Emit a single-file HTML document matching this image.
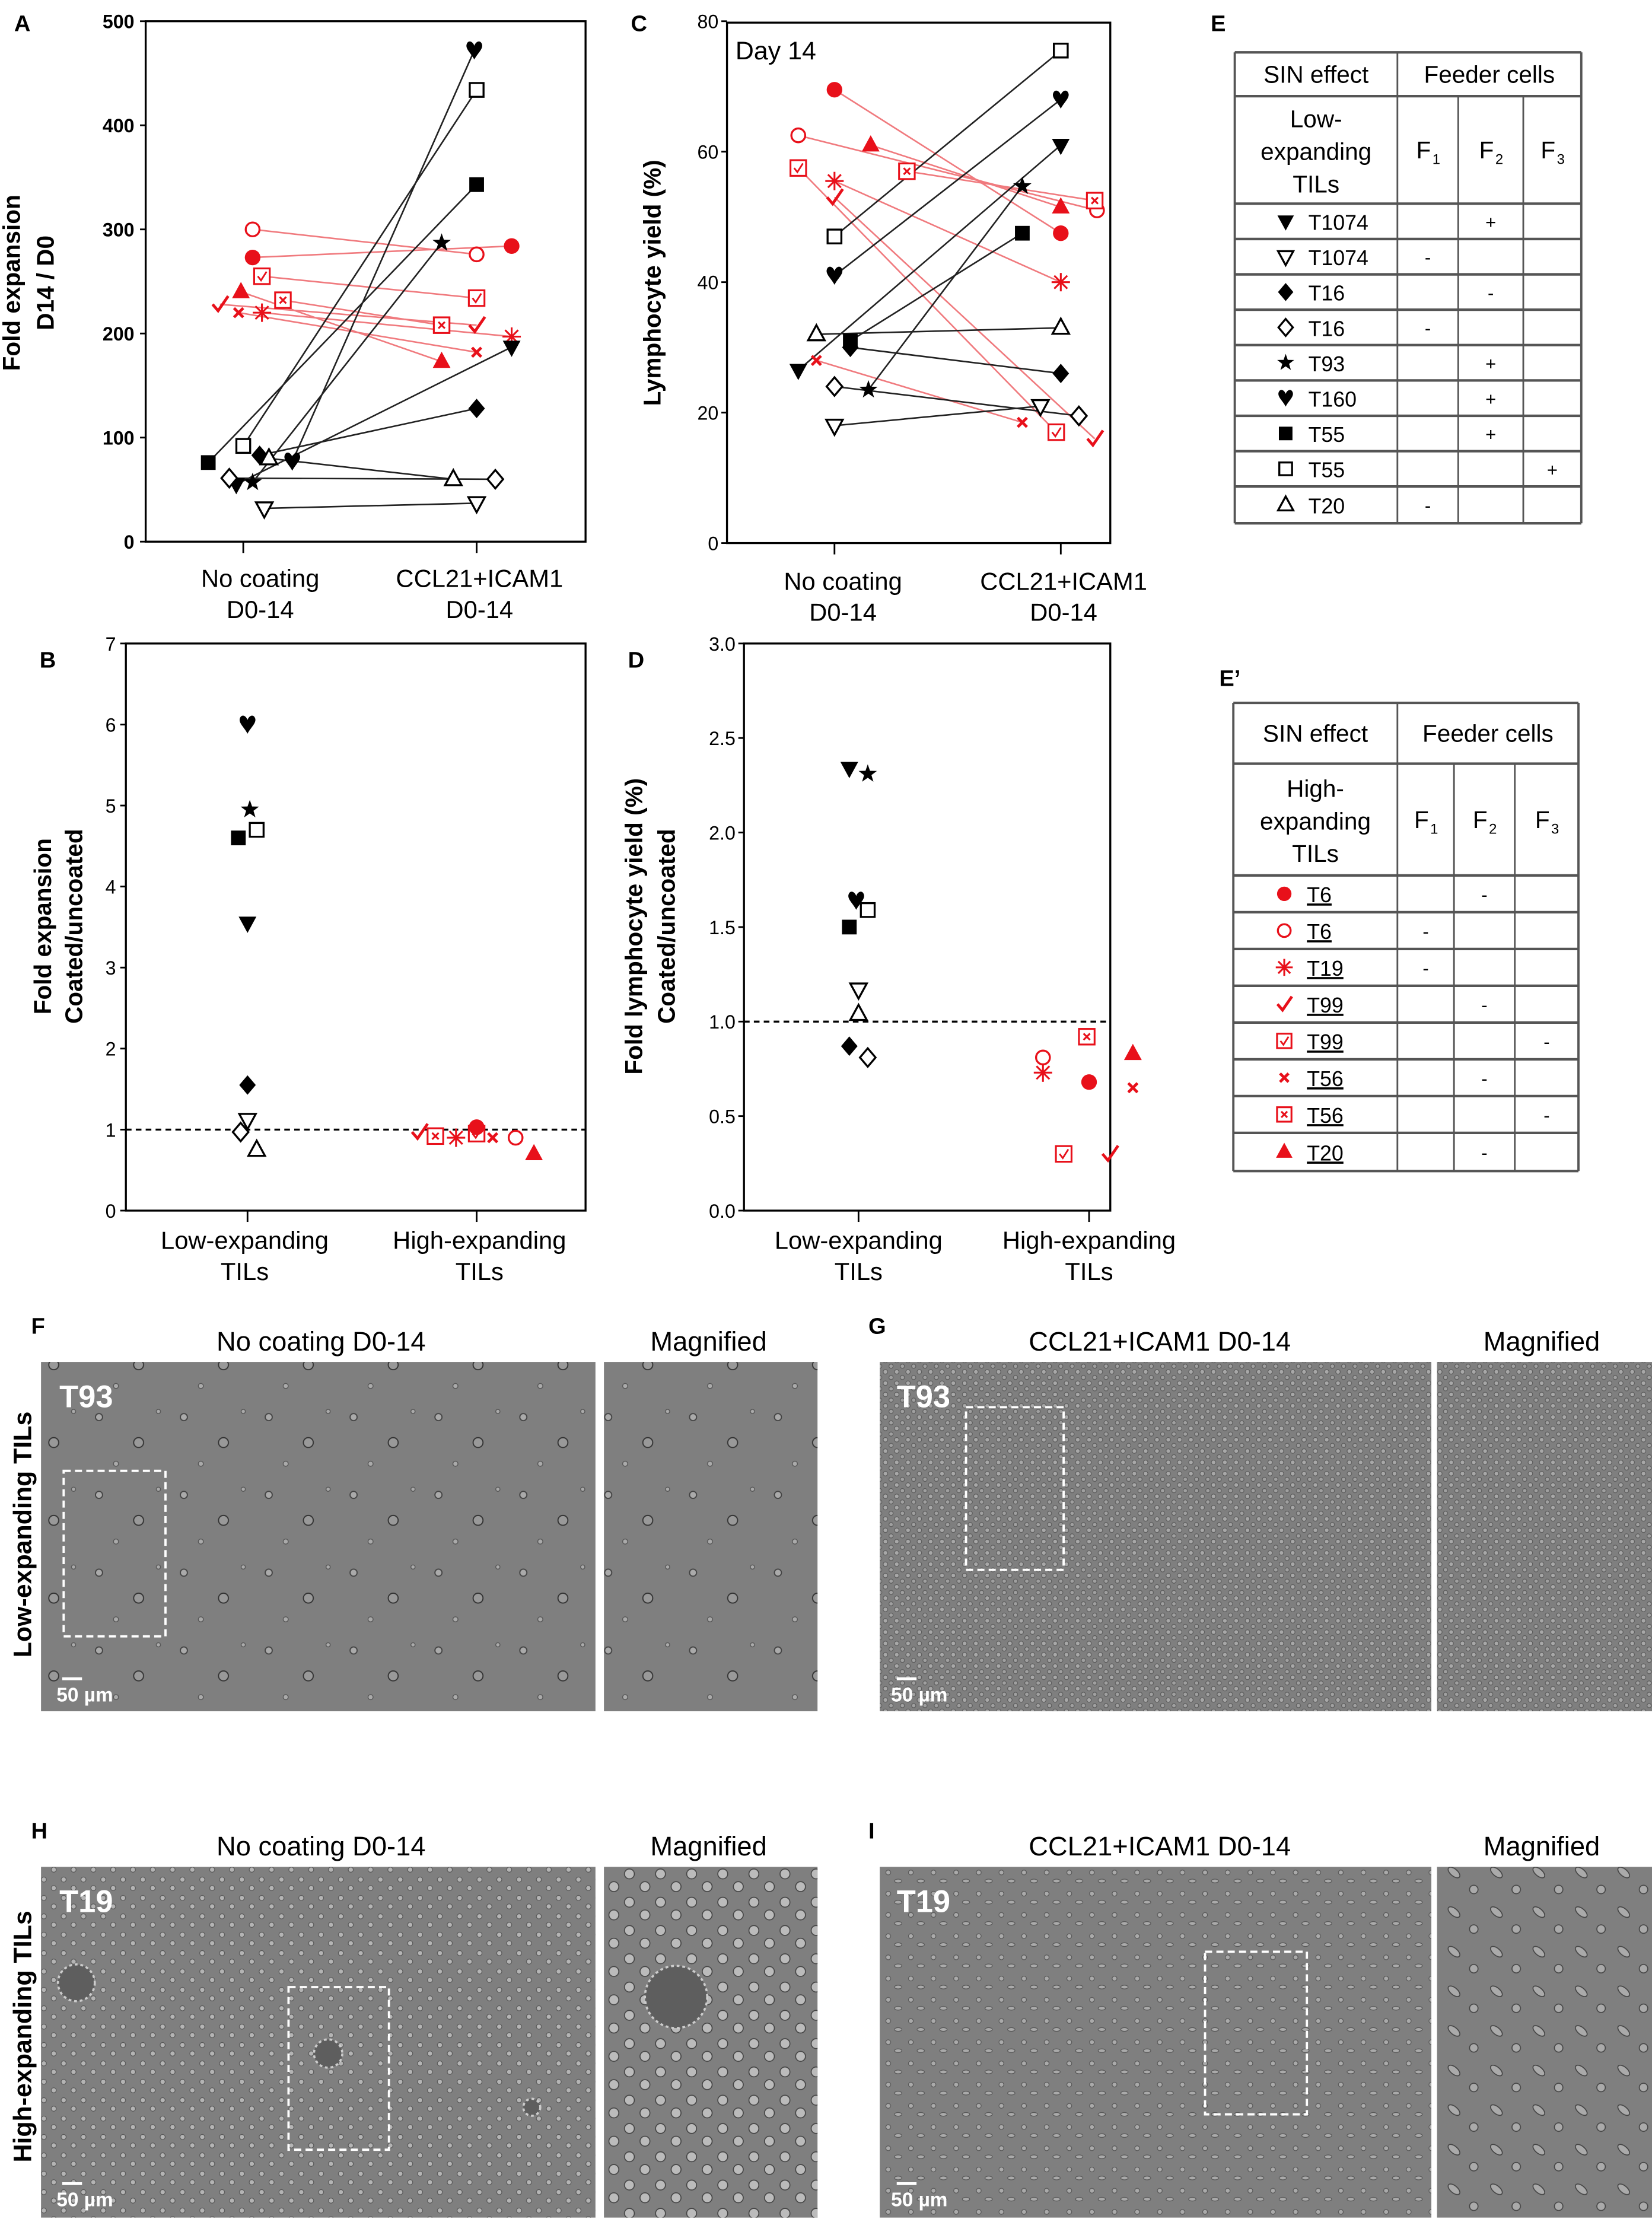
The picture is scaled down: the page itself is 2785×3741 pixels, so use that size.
<!DOCTYPE html>
<html><head><meta charset="utf-8"><style>
html,body{margin:0;padding:0;background:#fff}
svg{display:block}
text{font-family:"Liberation Sans",sans-serif}
.n{font-family:"Liberation Sans Narrow","Liberation Sans",sans-serif}
</style></head><body>
<svg id="fig" xmlns="http://www.w3.org/2000/svg" width="2785" height="3741" viewBox="0 0 1168 1569" preserveAspectRatio="none">
<defs>
<pattern id="pSparse" width="60" height="55" patternUnits="userSpaceOnUse">
<circle cx="10" cy="12" r="2.5" fill="#aaa" stroke="#444" stroke-width="0.8"/>
<circle cx="38" cy="30" r="3.5" fill="#999" stroke="#333" stroke-width="0.8"/>
<circle cx="22" cy="45" r="1.8" fill="#aaa" stroke="#555" stroke-width="0.6"/>
<circle cx="52" cy="8" r="1.5" fill="#aaa" stroke="#555" stroke-width="0.6"/>
</pattern>
<pattern id="pDense" width="8" height="8" patternUnits="userSpaceOnUse">
<circle cx="2" cy="2" r="1.6" fill="#a8a8a8" stroke="#5a5a5a" stroke-width="0.5"/>
<circle cx="6" cy="6" r="1.5" fill="#a0a0a0" stroke="#5a5a5a" stroke-width="0.5"/>
</pattern>
<pattern id="pRound" width="14" height="13" patternUnits="userSpaceOnUse">
<circle cx="3" cy="3" r="1.8" fill="#b4b4b4" stroke="#555" stroke-width="0.5"/>
<circle cx="10" cy="9" r="1.8" fill="#b4b4b4" stroke="#555" stroke-width="0.5"/>
</pattern>
<pattern id="pRoundBig" width="22" height="20" patternUnits="userSpaceOnUse">
<circle cx="5" cy="5" r="3.5" fill="#bbb" stroke="#444" stroke-width="0.7"/>
<circle cx="16" cy="14" r="3.5" fill="#bbb" stroke="#444" stroke-width="0.7"/>
</pattern>
<pattern id="pSpread" width="16" height="15" patternUnits="userSpaceOnUse">
<circle cx="4" cy="4" r="1.7" fill="#aaa" stroke="#555" stroke-width="0.5"/>
<ellipse cx="11" cy="10" rx="2.6" ry="1.3" fill="#aaa" stroke="#555" stroke-width="0.5"/>
</pattern>
<pattern id="pSpreadBig" width="30" height="28" patternUnits="userSpaceOnUse">
<ellipse cx="8" cy="8" rx="5" ry="2.5" fill="#aaa" stroke="#444" stroke-width="0.7" transform="rotate(40 8 8)"/>
<circle cx="22" cy="20" r="3" fill="#aaa" stroke="#444" stroke-width="0.7"/>
</pattern>
</defs>
<g id="root"></g>
</svg>
<script>
// ---------- DATA ----------
const markersA = ['circle-o','circle','checkbox','xbox','check','tri','xmark','asterisk','square','square-o','heart','star','tridown','diamond','diamond-o','tri-o','tridown-o'];
const colorsA  = ['r','r','r','r','r','r','r','r','k','k','k','k','k','k','k','k','k'];
const aNoCoat  = [300,273,255,232,228,240,220,220,76,92,77,57,55,83,61,80,32];
const aCoated  = [276,284,234,208,208,173,182,197,343,434,472,287,187,128,60,60,37];
const jitA0 = [0.04,0.04,0.08,0.17,-0.1,-0.01,-0.02,0.08,-0.15,0,0.21,0.04,-0.03,0.07,-0.06,0.11,0.09];
const jitA1 = [0,0.15,0,-0.15,0,-0.15,0,0.15,0,0,-0.01,-0.15,0.15,0,0.08,-0.1,0];

const markersC = ['circle','circle-o','tri','xbox','checkbox','asterisk','check','xmark','square-o','heart','tridown','star','square','diamond','tri-o','diamond-o','tridown-o'];
const colorsC  = ['r','r','r','r','r','r','r','r','k','k','k','k','k','k','k','k','k'];
const cNoCoat  = [69.5,62.5,61,57,57.5,55.5,53,28,47,41,26.5,23.5,31,30,32,24,18];
const cCoated  = [47.5,51,51.5,52.5,17,40,16,18.5,75.5,68,61,54.7,47.5,26,33,19.5,21];
const jitC0 = [0,-0.16,0.16,0.32,-0.16,0,0,-0.08,0,0,-0.16,0.15,0.07,0.07,-0.08,0,0];
const jitC1 = [0,0.16,0,0.15,-0.02,0,0.15,-0.17,0,0,0,-0.17,-0.17,0,0,0.08,-0.09];

const markersB = ['heart','star','square-o','square','tridown','diamond','tridown-o','diamond-o','tri-o','check','xbox','asterisk','checkbox','circle','xmark','circle-o','tri'];
const colorsB  = ['k','k','k','k','k','k','k','k','k','r','r','r','r','r','r','r','r'];
const groupB   = [0,0,0,0,0,0,0,0,0,1,1,1,1,1,1,1,1];
const bValues  = [6.0,4.95,4.7,4.6,3.55,1.55,1.12,0.97,0.75,0.97,0.92,0.9,0.95,1.03,0.9,0.9,0.7];
const jitB = [0,0.01,0.04,-0.04,0,0,0,-0.03,0.04,-0.25,-0.18,-0.09,0,0,0.07,0.17,0.25];

const markersD = ['tridown','star','heart','square-o','square','tridown-o','tri-o','diamond','diamond-o','circle-o','asterisk','xbox','circle','tri','xmark','checkbox','check'];
const colorsD  = ['k','k','k','k','k','k','k','k','k','r','r','r','r','r','r','r','r'];
const groupD   = [0,0,0,0,0,0,0,0,0,1,1,1,1,1,1,1,1];
const dValues  = [2.34,2.31,1.64,1.59,1.5,1.17,1.04,0.87,0.81,0.81,0.73,0.92,0.68,0.83,0.65,0.3,0.3];
const jitD = [-0.04,0.04,-0.01,0.04,-0.04,0,0,-0.04,0.04,-0.2,-0.2,-0.01,0,0.19,0.19,-0.11,0.09];

const ticksA = [0,100,200,300,400,500];
const ticksC = [0,20,40,60,80];
const ticksB = [0,1,2,3,4,5,6,7];
const ticksD = ['0.0','0.5','1.0','1.5','2.0','2.5','3.0'];

const tableERows = [['tridown','T1074','','+',''],['tridown-o','T1074','-','',''],['diamond','T16','','-',''],['diamond-o','T16','-','',''],['star','T93','','+',''],['heart','T160','','+',''],['square','T55','','+',''],['square-o','T55','','','+'],['tri-o','T20','-','','']];
const tableE2Rows = [['circle','T6','','-',''],['circle-o','T6','-','',''],['asterisk','T19','-','',''],['check','T99','','-',''],['checkbox','T99','','','-'],['xmark','T56','','-',''],['xbox','T56','','','-'],['tri','T20','','-','']];

// ---------- HELPERS ----------
const NS='http://www.w3.org/2000/svg';
const root=document.getElementById('root');
function mk(tag,attrs,parent){const e=document.createElementNS(NS,tag);for(const k in attrs)e.setAttribute(k,attrs[k]);(parent||root).appendChild(e);return e;}
function txt(x,y,s,size,opts,parent){opts=opts||{};const e=mk('text',{x:x,y:y,'font-size':size,'text-anchor':opts.anchor||'middle','font-weight':opts.bold?'bold':'normal',fill:opts.fill||'#000'},parent);if(opts.cls)e.setAttribute('class',opts.cls);if(opts.rot)e.setAttribute('transform','rotate('+opts.rot+' '+x+' '+y+')');if(opts.ul)e.setAttribute('text-decoration','underline');e.textContent=s;return e;}
const RED='#e8101a';
function col(c){return c==='r'?RED:'#000';}
function marker(type,x,y,c,s,parent){
  s=s||6.5;const g=mk('g',{},parent);const color=col(c);
  
  
  const sw=1.4;
  if(type==='circle')mk('circle',{cx:x,cy:y,r:s*0.85,fill:color},g);
  else if(type==='circle-o')mk('circle',{cx:x,cy:y,r:s*0.75,fill:'#fff',stroke:color,'stroke-width':sw},g);
  else if(type==='square')mk('rect',{x:x-s*0.8,y:y-s*0.8,width:s*1.6,height:s*1.6,fill:color},g);
  else if(type==='square-o')mk('rect',{x:x-s*0.75,y:y-s*0.75,width:s*1.5,height:s*1.5,fill:'#fff',stroke:color,'stroke-width':sw},g);
  else if(type==='tri'||type==='tri-o'){const o=type==='tri-o';mk('polygon',{points:[x,y-s,x-s*0.9,y+s*0.65,x+s*0.9,y+s*0.65].join(','),fill:o?'#fff':color,stroke:color,'stroke-width':o?sw:0.5},g);}
  else if(type==='tridown'||type==='tridown-o'){const o=type==='tridown-o';mk('polygon',{points:[x,y+s,x-s*0.9,y-s*0.65,x+s*0.9,y-s*0.65].join(','),fill:o?'#fff':color,stroke:color,'stroke-width':o?sw:0.5},g);}
  else if(type==='diamond'||type==='diamond-o'){const o=type==='diamond-o';mk('polygon',{points:[x,y-s,x+s*0.85,y,x,y+s,x-s*0.85,y].join(','),fill:o?'#fff':color,stroke:color,'stroke-width':o?sw:0.5},g);}
  else if(type==='star'){const p=[];for(let i=0;i<10;i++){const r=i%2?s*0.42:s*1.05;const a=-Math.PI/2+i*Math.PI/5;p.push((x+r*Math.cos(a)).toFixed(2)+','+(y+r*Math.sin(a)).toFixed(2));}mk('polygon',{points:p.join(' '),fill:color},g);}
  else if(type==='heart'){const k=s/6;mk('path',{d:`M${x} ${y+6*k} C${x-2*k} ${y+2*k} ${x-6*k} ${y-1*k} ${x-5*k} ${y-4*k} C${x-4*k} ${y-7*k} ${x-1*k} ${y-6*k} ${x} ${y-3*k} C${x+1*k} ${y-6*k} ${x+4*k} ${y-7*k} ${x+5*k} ${y-4*k} C${x+6*k} ${y-1*k} ${x+2*k} ${y+2*k} ${x} ${y+6*k}Z`,fill:color},g);}
  else if(type==='asterisk'){for(let i=0;i<4;i++){const a=i*Math.PI/4;mk('line',{x1:x-s*Math.cos(a),y1:y-s*Math.sin(a),x2:x+s*Math.cos(a),y2:y+s*Math.sin(a),stroke:color,'stroke-width':1.3},g);}}
  else if(type==='xmark'){const h=s*0.5;mk('path',{d:`M${x-h} ${y-h}L${x+h} ${y+h}M${x+h} ${y-h}L${x-h} ${y+h}`,stroke:color,'stroke-width':2,fill:'none'},g);}
  else if(type==='check'){mk('path',{d:`M${x-s*0.8} ${y}L${x-s*0.2} ${y+s*0.7}L${x+s*0.9} ${y-s*0.9}`,stroke:color,'stroke-width':2,fill:'none'},g);}
  else if(type==='checkbox'||type==='xbox'){mk('rect',{x:x-s*0.85,y:y-s*0.85,width:s*1.7,height:s*1.7,fill:'#fff',stroke:color,'stroke-width':1.3},g);
    if(type==='checkbox')mk('path',{d:`M${x-s*0.45} ${y}L${x-s*0.1} ${y+s*0.45}L${x+s*0.5} ${y-s*0.5}`,stroke:color,'stroke-width':1.2,fill:'none'},g);
    else {const h=s*0.35;mk('path',{d:`M${x-h} ${y-h}L${x+h} ${y+h}M${x+h} ${y-h}L${x-h} ${y+h}`,stroke:color,'stroke-width':1.3,fill:'none'},g);}}
  return g;
}
function axes(name,x0,x1,y0,y1,ticks,tickVals,yf,tickX,cats,catLabels,catY,labelOffsets){
  const g=mk('g',{});
  
  
  mk('rect',{x:x0,y:y1,width:x1-x0,height:y0-y1,fill:'none',stroke:'#000','stroke-width':1.4},g);
  ticks.forEach((t,i)=>{const y=yf(tickVals[i]);mk('line',{x1:x0-4,y1:y,x2:x0,y2:y,stroke:'#000','stroke-width':1.2},g);
    const tl=txt(tickX,y+5,String(t),13.5,{anchor:'end',bold:name==='panel-a',cls:name==='panel-a'?'':'n'},g);
    });
  cats.forEach((cx,i)=>{mk('line',{x1:cx,y1:y0,x2:cx,y2:y0+8,stroke:'#000','stroke-width':1.2},g);
    const off=labelOffsets?labelOffsets[i]:0;
    catLabels[i].forEach((l,j)=>{const t=txt(cx+off,catY+j*22,l,17.5,{},g);});});
  return g;
}

// ---------- PANEL A ----------
const yA=v=>383-v/500*368, xA=(c,j)=>[172,337][c]+j*165;
txt(10,22,'A',16,{bold:true,anchor:'start'});
axes('panel-a',103,414,383,15,ticksA,ticksA,yA,95,[172,337],[['No coating','D0-14'],['CCL21+ICAM1','D0-14']],415,[12,2]);
{const t=txt(14,200,'Fold expansion',17,{bold:true,rot:-90});
 txt(38,200,'D14 / D0',17,{bold:true,rot:-90});}
const gA=mk('g',{});
aNoCoat.forEach((v,i)=>{mk('line',{x1:xA(0,jitA0[i]),y1:yA(v),x2:xA(1,jitA1[i]),y2:yA(aCoated[i]),stroke:colorsA[i]==='r'?'#f07a7e':'#222','stroke-width':1.1},gA);});
aNoCoat.forEach((v,i)=>{marker(markersA[i],xA(0,jitA0[i]),yA(v),colorsA[i],6.5,gA);marker(markersA[i],xA(1,jitA1[i]),yA(aCoated[i]),colorsA[i],6.5,gA);});

// ---------- PANEL C ----------
const yC=v=>384-v/80*369, xC=(c,j)=>[590,750][c]+j*160;
txt(446,22,'C',16,{bold:true,anchor:'start'});
axes('panel-c',514,785,384,16,ticksC,ticksC,yC,508,[590,750],[['No coating','D0-14'],['CCL21+ICAM1','D0-14']],417,[6,2]);
txt(520,42,'Day 14',18,{anchor:'start',cls:'n'});
{const t=txt(467,200,'Lymphocyte yield (%)',17,{bold:true,rot:-90});}
const gC=mk('g',{});
cNoCoat.forEach((v,i)=>{mk('line',{x1:xC(0,jitC0[i]),y1:yC(v),x2:xC(1,jitC1[i]),y2:yC(cCoated[i]),stroke:colorsC[i]==='r'?'#f07a7e':'#222','stroke-width':1.1},gC);});
cNoCoat.forEach((v,i)=>{marker(markersC[i],xC(0,jitC0[i]),yC(v),colorsC[i],6.5,gC);marker(markersC[i],xC(1,jitC1[i]),yC(cCoated[i]),colorsC[i],6.5,gC);});

// ---------- PANEL B ----------
const yB=v=>856-v/7*401, xB=(c,j)=>[175,337][c]+j*162;
txt(28,472,'B',16,{bold:true,anchor:'start'});
axes('panel-b',89,414,856,455,ticksB,ticksB,yB,82,[175,337],[['Low-expanding','TILs'],['High-expanding','TILs']],883,[-2,2]);
{const t=txt(36,655,'Fold expansion',17,{bold:true,rot:-90});
 txt(58,655,'Coated/uncoated',17,{bold:true,rot:-90});}
mk('line',{x1:89,y1:yB(1),x2:414,y2:yB(1),stroke:'#000','stroke-width':1.4,'stroke-dasharray':'4,3'});
bValues.forEach((v,i)=>marker(markersB[i],xB(groupB[i],jitB[i]),yB(v),colorsB[i],6.5));

// ---------- PANEL D ----------
const yD=v=>856-v/3*401, xD=(c,j)=>[607,770][c]+j*163;
txt(444,472,'D',16,{bold:true,anchor:'start'});
axes('panel-d',526,785,856,455,ticksD,ticksD.map(Number),yD,520,[607,770],[['Low-expanding','TILs'],['High-expanding','TILs']],883,[0,0]);
{const t=txt(454,655,'Fold lymphocyte yield (%)',17,{bold:true,rot:-90});
 txt(477,655,'Coated/uncoated',17,{bold:true,rot:-90});}
mk('line',{x1:526,y1:yD(1),x2:785,y2:yD(1),stroke:'#000','stroke-width':1.4,'stroke-dasharray':'4,3'});
dValues.forEach((v,i)=>marker(markersD[i],xD(groupD[i],jitD[i]),yD(v),colorsD[i],6.5));

// ---------- TABLES ----------
function table(name,x,cols,ys,rows,hdr2,ul){
  const g=mk('g',{});
  const L='#555';
  ys.forEach(y=>mk('line',{x1:cols[0],y1:y,x2:cols[4],y2:y,stroke:L,'stroke-width':1.8},g));
  mk('line',{x1:cols[0],y1:ys[0],x2:cols[0],y2:ys[ys.length-1],stroke:L,'stroke-width':1.6},g);
  mk('line',{x1:cols[4],y1:ys[0],x2:cols[4],y2:ys[ys.length-1],stroke:L,'stroke-width':1.6},g);
  mk('line',{x1:cols[1],y1:ys[0],x2:cols[1],y2:ys[ys.length-1],stroke:L,'stroke-width':1.2},g);
  mk('line',{x1:cols[2],y1:ys[1],x2:cols[2],y2:ys[ys.length-1],stroke:L,'stroke-width':1.2},g);
  mk('line',{x1:cols[3],y1:ys[1],x2:cols[3],y2:ys[ys.length-1],stroke:L,'stroke-width':1.2},g);
  const m0=(cols[0]+cols[1])/2, mh=(cols[1]+cols[4])/2;
  txt(m0,(ys[0]+ys[1])/2+6,'SIN effect',17,{cls:'n'},g);
  txt(mh,(ys[0]+ys[1])/2+6,'Feeder cells',17,{cls:'n'},g);
  const r2=(ys[1]+ys[2])/2;
  hdr2.forEach((l,j)=>txt(m0,r2-16+j*23,l,17,{cls:'n'},g));
  ['1','2','3'].forEach((s,j)=>{const cx=(cols[j+1]+cols[j+2])/2;txt(cx-3,r2+6,'F',17,{cls:'n'},g);txt(cx+6,r2+10,s,10,{cls:'n'},g);});
  rows.forEach((r,i)=>{const cy=(ys[i+2]+ys[i+3])/2;marker(r[0],cols[0]+36,cy,name==='table-e'?'k':'r',6,g);
    txt(cols[0]+52,cy+6,r[1],15,{anchor:'start',cls:'n',ul:ul},g);
    for(let j=0;j<3;j++){if(r[j+2])txt((cols[j+1]+cols[j+2])/2,cy+5,r[j+2],13,{},g);}});
}
txt(856,22,'E',16,{bold:true,anchor:'start'});
table('table-e',873,[873,988,1031,1077,1118],[37,68,144,169,194,219,244,269,294,319,344,370],tableERows,['Low-','expanding','TILs'],false);
txt(862,485,'E\u2019',16,{bold:true,anchor:'start'});
table('table-e-prime',872,[872,988,1028,1071,1116],[497,540,619,645,671,697,723,749,775,801,828],tableE2Rows,['High-','expanding','TILs'],true);

// ---------- MICROSCOPY ----------
function photo(name,x,y,w,h,pat){
  const g=mk('g',{});
  mk('rect',{x:x,y:y,width:w,height:h,fill:'#7f7f7f'},g);
  mk('rect',{x:x,y:y,width:w,height:h,fill:'url(#'+pat+')'},g);
  return g;
}
function dash(x,y,w,h){const r=mk('rect',{x:x,y:y,width:w,height:h,fill:'none',stroke:'#fff','stroke-width':1.6,'stroke-dasharray':'5,3'});}
function scalebar(x,y){mk('line',{x1:x+4,y1:y-14,x2:x+18,y2:y-14,stroke:'#fff','stroke-width':2});txt(x,y+2,'50 µm',14,{anchor:'start',bold:true,fill:'#fff'});}
const rowsPh=[[963,1210,'pSparse','pSparse','pDense','pDense','T93','F','G'],[1320,1568,'pRound','pRoundBig','pSpread','pSpreadBig','T19','H','I']];
rowsPh.forEach((r,k)=>{
  const y=r[0],h=r[1]-r[0];
  photo('photo-'+r[7]+'-no-coating',29,y,392,h,r[2]);
  photo('photo-'+r[7]+'-magnified',427,y,151,h,r[3]);
  photo('photo-'+r[8]+'-coated',622,y,390,h,r[4]);
  photo('photo-'+r[8]+'-magnified',1016,y,152,h,r[5]);
  txt(227,y-8,'No coating D0-14',19,{cls:'n'});
  txt(501,y-8,'Magnified',19,{cls:'n'});
  txt(820,y-8,'CCL21+ICAM1  D0-14',19,{cls:'n'});
  txt(1090,y-8,'Magnified',19,{cls:'n'});
  txt(22,y-20,r[7],16,{bold:true,anchor:'start',cls:'n'});
  txt(614,y-20,r[8],16,{bold:true,anchor:'start',cls:'n'});
  txt(42,y+32,r[6],22,{bold:true,anchor:'start',fill:'#fff',cls:'n'});
  txt(634,y+32,r[6],22,{bold:true,anchor:'start',fill:'#fff',cls:'n'});
  scalebar(40,y+238);scalebar(630,y+238);
});
[[54,1402,13],[232,1452,10],[376,1490,6],[478,1412,22]].forEach(b=>mk('circle',{cx:b[0],cy:b[1],r:b[2],fill:'#5e5e5e',stroke:'#ccc','stroke-width':1.5,'stroke-dasharray':'2,2'}));
dash(45,1040,72,117);dash(683,995,69,115);dash(204,1405,71,115);dash(852,1380,72,115);
txt(22,1085,'Low-expanding TILs',18,{bold:true,rot:-90});
txt(22,1440,'High-expanding TILs',18,{bold:true,rot:-90});
</script>
</body></html>
